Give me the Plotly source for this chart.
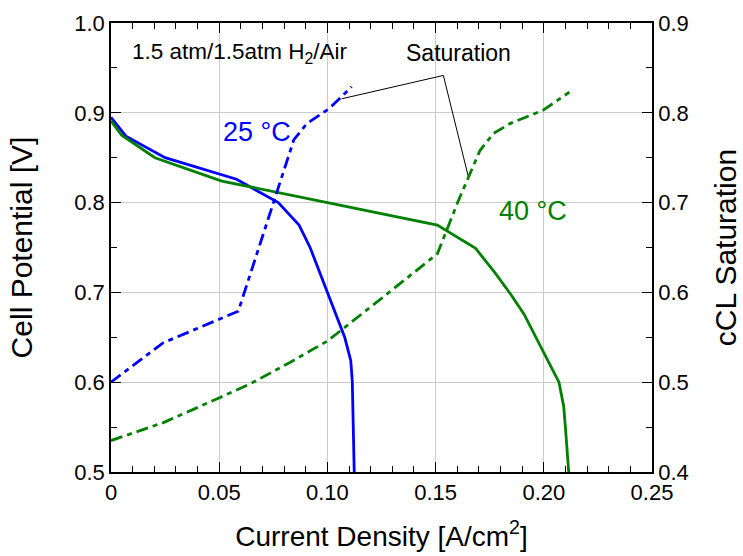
import plotly.graph_objects as go

# Polarization curves (left axis, V) and cathode catalyst layer saturation (right axis)
current_25 = [0.0, 0.0069, 0.025, 0.058, 0.0773, 0.0869, 0.092, 0.100, 0.108, 0.1108, 0.1115, 0.1124]
voltage_25 = [0.895, 0.874, 0.850, 0.826, 0.800, 0.775, 0.750, 0.700, 0.650, 0.624, 0.601, 0.500]

current_40 = [0.0, 0.0049, 0.0203, 0.0512, 0.100, 0.1508, 0.1685, 0.1774, 0.1847, 0.1908, 0.207, 0.2092, 0.2101, 0.2115]
voltage_40 = [0.891, 0.875, 0.850, 0.824, 0.800, 0.775, 0.749, 0.722, 0.698, 0.676, 0.600, 0.573, 0.546, 0.500]

sat_current_25 = [0.0, 0.0242, 0.0588, 0.0845, 0.0905, 0.101, 0.1112]
saturation_25 = [0.500, 0.544, 0.579, 0.770, 0.788, 0.805, 0.829]

sat_current_40 = [0.0, 0.0242, 0.0504, 0.0642, 0.0827, 0.1001, 0.1243, 0.1508, 0.1605, 0.1705, 0.1767, 0.1844, 0.1998, 0.2118]
saturation_40 = [0.435, 0.455, 0.483, 0.498, 0.522, 0.546, 0.592, 0.643, 0.702, 0.758, 0.777, 0.788, 0.803, 0.823]

# Leader lines from the "Saturation" label to the two saturation curves
leader_x = [0.1066, 0.1536, 0.1651]
leader_y = [0.9156, 0.9416, 0.8292]

BLUE = "#0000ff"
GREEN = "#008000"
FONT = "Liberation Sans, Arial, sans-serif"
DASH = "12px,5px,5px,5px"
LW = 2.8

fig = go.Figure()
fig.add_trace(go.Scatter(x=current_25, y=voltage_25, mode="lines",
                         line=dict(color=BLUE, width=LW), yaxis="y"))
fig.add_trace(go.Scatter(x=current_40, y=voltage_40, mode="lines",
                         line=dict(color=GREEN, width=LW), yaxis="y"))
fig.add_trace(go.Scatter(x=sat_current_25, y=saturation_25, mode="lines",
                         line=dict(color=BLUE, width=LW, dash=DASH), yaxis="y2"))
fig.add_trace(go.Scatter(x=sat_current_40, y=saturation_40, mode="lines",
                         line=dict(color=GREEN, width=LW, dash=DASH), yaxis="y2"))
fig.add_trace(go.Scatter(x=leader_x, y=leader_y, mode="lines",
                         line=dict(color="black", width=1), yaxis="y"))

axis_common = dict(
    showline=True, linecolor="black", linewidth=1.5,
    ticks="inside", ticklen=10, tickwidth=1, tickcolor="black",
    tickfont=dict(family=FONT, size=22, color="black"),
    zeroline=False, automargin=False,
)

fig.update_layout(
    width=743, height=556,
    margin=dict(l=111, r=91, t=23, b=84),
    paper_bgcolor="white", plot_bgcolor="white",
    showlegend=False,
    font=dict(family=FONT, color="black"),
    xaxis=dict(
        range=[0, 0.25], tickvals=[0, 0.05, 0.10, 0.15, 0.20, 0.25],
        ticktext=["0", "0.05", "0.10", "0.15", "0.20", "0.25"],
        showgrid=True, gridcolor="#cccccc", gridwidth=1, mirror="ticks",
        minor=dict(ticks="inside", dtick=0.01, ticklen=6, tickcolor="black", showgrid=False),
        title=dict(text="Current Density [A/cm<sup>2</sup>]", font=dict(family=FONT, size=28), standoff=22),
        **axis_common,
    ),
    yaxis=dict(
        range=[0.5, 1.0], tickvals=[0.5, 0.6, 0.7, 0.8, 0.9, 1.0],
        ticktext=["0.5", "0.6", "0.7", "0.8", "0.9", "1.0"],
        showgrid=True, gridcolor="#cccccc", gridwidth=1,
        minor=dict(ticks="inside", dtick=0.05, ticklen=6, tickcolor="black", showgrid=False),
        title=dict(text="Cell Potential [V]", font=dict(family=FONT, size=30), standoff=33),
        **axis_common,
    ),
    yaxis2=dict(
        range=[0.4, 0.9], tickvals=[0.4, 0.5, 0.6, 0.7, 0.8, 0.9],
        ticktext=["0.4", "0.5", "0.6", "0.7", "0.8", "0.9"],
        overlaying="y", side="right", showgrid=False,
        minor=dict(ticks="inside", dtick=0.05, ticklen=6, tickcolor="black", showgrid=False),
        title=dict(text="cCL Saturation", font=dict(family=FONT, size=30), standoff=27),
        **axis_common,
    ),
    annotations=[
        dict(x=0.0088, y=0.9665, xref="x", yref="y", xanchor="left", yanchor="middle",
             text="1.5 atm/1.5atm H<sub>2</sub>/Air", showarrow=False,
             font=dict(family=FONT, size=22.5, color="black")),
        dict(x=0.1604, y=0.9662, xref="x", yref="y", xanchor="center", yanchor="middle",
             text="Saturation", showarrow=False,
             font=dict(family=FONT, size=23, color="black")),
        dict(x=0.0675, y=0.8784, xref="x", yref="y", xanchor="center", yanchor="middle",
             text="25 °C", showarrow=False,
             font=dict(family=FONT, size=27, color=BLUE)),
        dict(x=0.1952, y=0.791, xref="x", yref="y", xanchor="center", yanchor="middle",
             text="40 °C", showarrow=False,
             font=dict(family=FONT, size=27, color=GREEN)),
    ],
)

fig.write_html("out.html")
